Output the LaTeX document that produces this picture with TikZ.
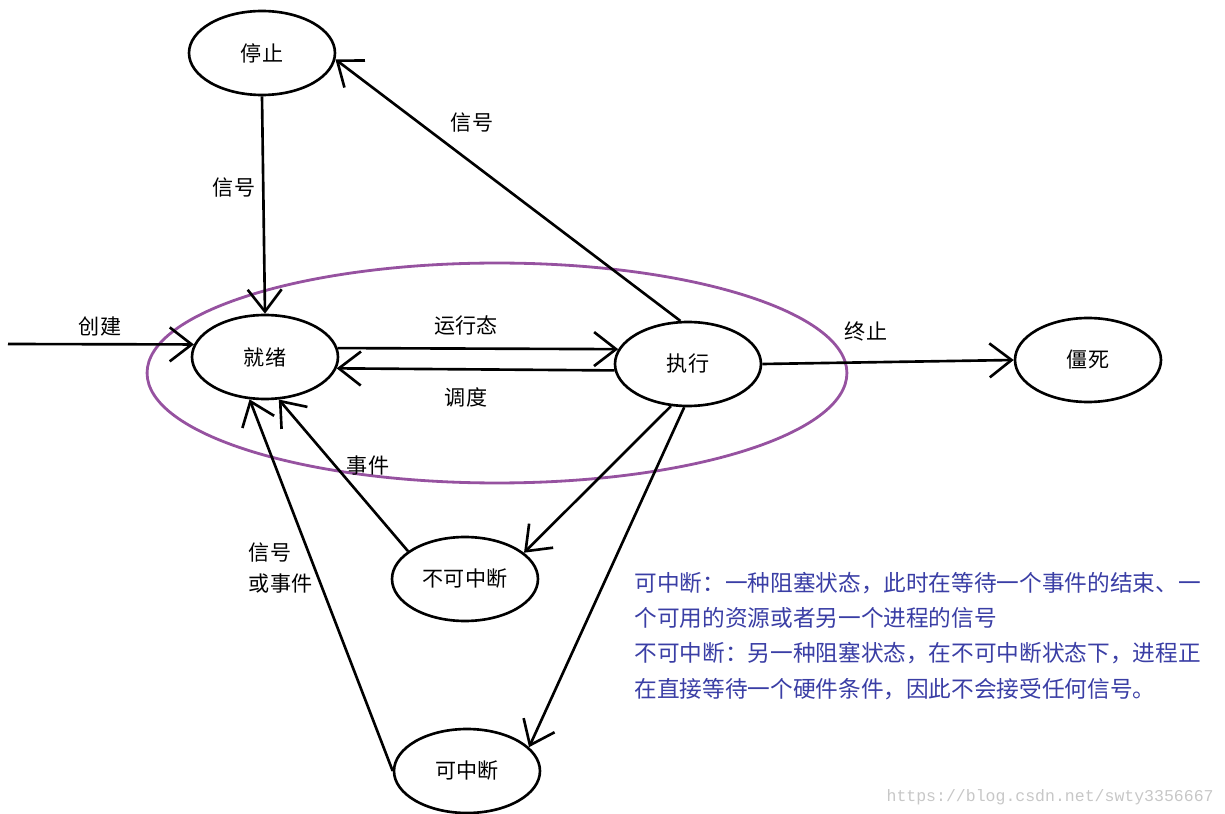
\documentclass[tikz,border=0pt]{standalone}
\usepackage{fontspec}
\setmainfont{Noto Sans CJK SC}
\newfontfamily\watermarkfont{Liberation Mono}
\usetikzlibrary{shapes.geometric,arrows.meta,positioning}
\definecolor{ringpurple}{RGB}{150,82,160}
\definecolor{noteblue}{RGB}{58,62,165}
\tikzstyle{state} = [draw, ellipse, line width=1.5pt, minimum width=2.92cm, minimum height=1.68cm, inner sep=0pt, font=\fontsize{12}{14}\selectfont]
\tikzstyle{edgelabel} = [inner sep=1pt, font=\fontsize{12}{14}\selectfont]
\tikzstyle{trans} = [draw, line width=1.5pt, line join=round, -{Straight Barb[length=4.4mm, width=6.8mm]}]
\tikzstyle{note} = [inner sep=0pt, align=left, text=noteblue, font=\fontsize{12.9}{20}\selectfont]
\tikzstyle{watermark} = [inner sep=0pt, text=black!22, font=\watermarkfont\fontsize{9.4}{11}\selectfont]

\begin{document}
\begin{tikzpicture}[x=0.02cm, y=-0.02cm]
    \useasboundingbox (0,0) rectangle (1225,814);
    % Ring round ready and running
    \draw [ringpurple, line width=1.6pt] (497,373) ellipse [x radius=7cm, y radius=2.2cm];

    % States
    \node [state] (stopped) at (262,53) {停止};
    \node [state] (ready) at (265,357) {就绪};
    \node [state] (running) at (688,364) {执行};
    \node [state] (zombie) at (1088,360) {僵死};
    \node [state] (uninter) at (465,579) {不可中断};
    \node [state] (inter) at (467,771) {可中断};
    \coordinate (start) at (8,344);

    % Connections
    \draw [trans] (start) -- (ready.170);
    \draw [trans] (stopped.south) -- (ready.north);
    \draw [trans] (running.100) -- (stopped.-5);
    \draw [trans] (ready.7) -- (running.168);
    \draw [trans] (running.185) -- (ready.-9);
    \draw [trans] (running.east) -- (zombie.west);
    \draw [trans] (running.248) -- (uninter.24);
    \draw [trans] (running.265) -- (inter.21);
    \draw [trans] (uninter.154) -- (ready.288);
    \draw [trans] (inter.west) -- (ready.250);

    % Labels
    \node [edgelabel] (createlbl) at (100,326) {创建};
    \node [edgelabel] (resumelbl) at (234,188) {信号};
    \node [edgelabel] (stoplbl) at (472,123) {信号};
    \node [edgelabel] (runlbl) at (466,325) {运行态};
    \node [edgelabel] (schedlbl) at (466,397) {调度};
    \node [edgelabel] (exitlbl) at (866,331) {终止};
    \node [edgelabel] (eventlbl) at (368,466) {事件};
    \node [edgelabel] (signallbl) at (270,553) {信号};
    \node [edgelabel, below=4pt of signallbl.south west, anchor=north west] (orlbl) {或事件};

    % Notes
    \node [note, anchor=base west] (notes) at (634,697) {可中断：一种阻塞状态，此时在等待一个事件的结束、一\\个可用的资源或者另一个进程的信号\\不可中断：另一种阻塞状态，在不可中断状态下，进程正\\在直接等待一个硬件条件，因此不会接受任何信号。};
    \node [watermark, anchor=base east] (url) at (1214,801) {https://blog.csdn.net/swty3356667};
\end{tikzpicture}
\end{document}
